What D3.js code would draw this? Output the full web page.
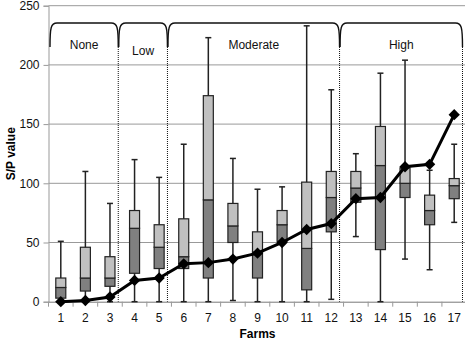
<!DOCTYPE html>
<html>
<head>
<meta charset="utf-8">
<script src="https://cdn.jsdelivr.net/npm/d3@7"></script>
<style>
  body { margin: 0; background: #fff; }
  svg text { font-family: "Liberation Sans", Arial, sans-serif; }
</style>
</head>
<body>
<svg width="465" height="344"></svg>
<script>
// данные: фермы и статистика S/P
const farms = [1, 2, 3, 4, 5, 6, 7, 8, 9, 10, 11, 12, 13, 14, 15, 16, 17];
const mins    = [0, 0, 0, 0, 0, 0, 0, 1, 0, 0, 0, 2, 55, 0, 36, 27, 67];
const q1      = [3, 9, 13, 24, 28, 28, 20, 50, 20, 51, 10, 59, 84, 44, 88, 65, 87];
const medians = [12, 20, 20, 62, 46, 38, 86, 64, 42, 65, 45, 88, 96, 115, 100, 77, 98];
const q3      = [20, 46, 38, 77, 65, 70, 174, 83, 59, 77, 101, 110, 110, 148, 113, 90, 104];
const maxs    = [51, 110, 83, 120, 105, 133, 223, 121, 95, 97, 233, 179, 125, 193, 204, 111, 133];
const means   = [0, 1, 4, 18, 20, 32, 33, 36, 41, 50, 61, 66, 87, 88, 114, 116, 158];
const yTicks  = [0, 50, 100, 150, 200, 250];

// группы ферм (первая и последняя ферма в группе)
const groupNames = ["None", "Low", "Moderate", "High"];
const groupFirst = [1, 4, 6, 13];
const groupLast  = [3, 5, 12, 17];

const svg = d3.select("svg");
const mLeft = 48.5, mRight = 466.5, mTop = 5.7, mBottom = 301.7;

const x = d3.scaleBand().domain(farms).range([mLeft, mRight]).padding(0);
const y = d3.scaleLinear().domain([0, 250]).range([mBottom, mTop]);
const cx = (f) => x(f) + x.bandwidth() / 2;

// горизонтальная сетка
svg.append("g")
  .selectAll("line")
  .data(yTicks.filter(d => d > 0))
  .join("line")
  .attr("x1", mLeft).attr("x2", 465)
  .attr("y1", d => y(d)).attr("y2", d => y(d))
  .attr("stroke", "#999").attr("stroke-width", 1);

// ось Y
const yAxis = svg.append("g")
  .attr("transform", `translate(${mLeft},0)`)
  .call(d3.axisLeft(y).tickValues(yTicks).tickSize(5).tickPadding(4));
yAxis.select(".domain").attr("stroke", "#999");
yAxis.selectAll(".tick line").attr("stroke", "#999");
yAxis.selectAll("text").attr("font-size", 12).attr("fill", "#111")
  .attr("font-family", "Liberation Sans, Arial, sans-serif");

// ось X — деления между категориями
const xAxis = svg.append("g")
  .attr("transform", `translate(0,${mBottom})`)
  .call(d3.axisBottom(x).tickSize(0).tickPadding(12));
xAxis.select(".domain").attr("stroke", "#777");
xAxis.selectAll("text").attr("font-size", 12).attr("fill", "#111")
  .attr("font-family", "Liberation Sans, Arial, sans-serif");
svg.append("g")
  .selectAll("line")
  .data(farms)
  .join("line")
  .attr("x1", d => x(d)).attr("x2", d => x(d))
  .attr("y1", mBottom).attr("y2", mBottom + 5)
  .attr("stroke", "#999");

// подписи осей
svg.append("text")
  .attr("transform", `translate(15,${(mTop + mBottom) / 2}) rotate(-90)`)
  .attr("text-anchor", "middle")
  .attr("font-size", 12).attr("font-weight", "bold")
  .text("S/P value");
svg.append("text")
  .attr("x", (mLeft + mRight) / 2).attr("y", 338)
  .attr("text-anchor", "middle")
  .attr("font-size", 12).attr("font-weight", "bold")
  .text("Farms");

// скобки групп и пунктирные разделители
const braceTop = 23, braceBot = 47, r = 7;
const gx0 = (i) => i === 0 ? mLeft + 1.5 : x(groupFirst[i]) - 3.5;
const gx1 = (i) => x(groupLast[i]) + x.bandwidth() - 4;
groupNames.forEach((name, i) => {
  const a = gx0(i), b = gx1(i);
  const p = d3.path();
  p.moveTo(a, braceBot);
  p.bezierCurveTo(a, braceTop + 4, a + 1, braceTop, a + r, braceTop);
  p.lineTo(b - r, braceTop);
  p.bezierCurveTo(b - 1, braceTop, b, braceTop + 4, b, braceBot);
  svg.append("path").attr("d", p.toString())
    .attr("fill", "none").attr("stroke", "#111").attr("stroke-width", 1.4);
  svg.append("text")
    .attr("x", (a + b) / 2)
    .attr("y", name === "Low" ? 55 : 49)
    .attr("text-anchor", "middle")
    .attr("font-size", 12).attr("fill", "#111")
    .text(name);
  svg.append("line")
    .attr("x1", b).attr("x2", b)
    .attr("y1", braceBot).attr("y2", mBottom)
    .attr("stroke", "#111").attr("stroke-width", 1)
    .attr("stroke-dasharray", "1,1");
});

// ящики с усами
const bw = 10, cap = 6;
const boxes = svg.append("g").selectAll("g").data(farms).join("g");
boxes.append("line")
  .attr("x1", d => cx(d)).attr("x2", d => cx(d))
  .attr("y1", (d, i) => y(mins[i])).attr("y2", (d, i) => y(maxs[i]))
  .attr("stroke", "#222").attr("stroke-width", 1.5);
boxes.append("line")
  .attr("x1", d => cx(d) - cap / 2).attr("x2", d => cx(d) + cap / 2)
  .attr("y1", (d, i) => y(maxs[i])).attr("y2", (d, i) => y(maxs[i]))
  .attr("stroke", "#222").attr("stroke-width", 1.5);
boxes.append("line")
  .attr("x1", d => cx(d) - cap / 2).attr("x2", d => cx(d) + cap / 2)
  .attr("y1", (d, i) => y(mins[i])).attr("y2", (d, i) => y(mins[i]))
  .attr("stroke", "#222").attr("stroke-width", 1.5);
boxes.append("rect")
  .attr("x", d => cx(d) - bw / 2).attr("width", bw)
  .attr("y", (d, i) => y(medians[i]))
  .attr("height", (d, i) => y(q1[i]) - y(medians[i]))
  .attr("fill", "#808080").attr("stroke", "#222").attr("stroke-width", 1.2);
boxes.append("rect")
  .attr("x", d => cx(d) - bw / 2).attr("width", bw)
  .attr("y", (d, i) => y(q3[i]))
  .attr("height", (d, i) => y(medians[i]) - y(q3[i]))
  .attr("fill", "#c0c0c0").attr("stroke", "#222").attr("stroke-width", 1.2);

// линия средних с ромбами
const line = d3.line()
  .x((d, i) => cx(farms[i]))
  .y(d => y(d));
svg.append("path")
  .attr("d", line(means))
  .attr("fill", "none").attr("stroke", "#000").attr("stroke-width", 3);
svg.append("g")
  .selectAll("path")
  .data(means)
  .join("path")
  .attr("d", d3.symbol(d3.symbolSquare, 64)())
  .attr("transform", (d, i) => `translate(${cx(farms[i])},${y(d)}) rotate(45)`)
  .attr("fill", "#000");
</script>
</body>
</html>
